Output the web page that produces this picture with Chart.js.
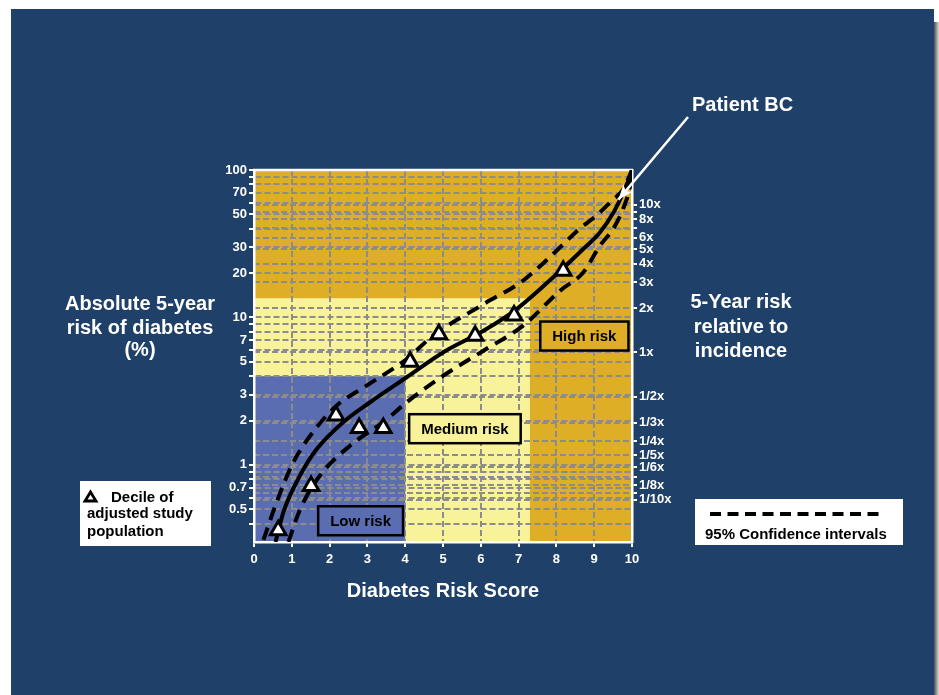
<!DOCTYPE html>
<html><head><meta charset="utf-8">
<script src="https://cdn.jsdelivr.net/npm/chart.js@4/dist/chart.umd.min.js"></script>
<style>html,body{margin:0;padding:0;background:#fff;}canvas{display:block;}</style>
</head><body>
<canvas id="c" width="939" height="695"></canvas>
<script>
// ---------- data ----------
const decileScore = [0.64, 1.51, 2.17, 2.78, 3.42, 4.13, 4.89, 5.85, 6.88, 8.18];
const decileRisk  = [0.36, 0.72, 2.16, 1.78, 1.78, 5.0, 7.7, 7.5, 10.3, 20.7];

const fitScore = [0.57, 0.78, 1.22, 1.66, 2.36, 3.07, 4.04, 5.01, 6.07, 6.95, 8.01, 8.71, 9.15, 9.51, 9.77, 9.95, 10];
const fitRisk  = [0.30, 0.48, 0.85, 1.28, 1.95, 2.66, 3.93, 5.81, 8.12, 11.4, 19.7, 29.1, 37.7, 51.5, 70.4, 91, 100];

const upperScore = [0.25, 0.6, 1.04, 1.66, 2.19, 2.98, 4.04, 4.74, 6.07, 7.12, 8.05, 8.58, 9.07, 9.46, 9.77, 10];
const upperRisk  = [0.31, 0.56, 1.04, 1.8, 2.53, 3.45, 5.23, 7.53, 12.3, 17.8, 29.1, 39.3, 49.4, 61.7, 74, 100];

const lowerScore = [0.91, 1.22, 1.75, 2.54, 3.42, 4.04, 5.01, 6.07, 7.12, 8.1, 8.71, 9.15, 9.55, 9.81, 9.95, 10];
const lowerRisk  = [0.30, 0.50, 0.85, 1.35, 1.95, 2.66, 4.03, 5.95, 8.8, 15.2, 20.2, 30.6, 41.8, 58.6, 78, 100];

const leftTicks  = [0.4, 0.5, 0.6, 0.7, 0.8, 0.9, 1, 2, 3, 4, 5, 6, 7, 8, 9, 10, 20, 30, 40, 50, 60, 70, 80, 90, 100];
const leftLabels = [0.5, 0.7, 1, 2, 3, 5, 7, 10, 20, 30, 50, 70, 100];

const rightTicks  = [0.1, 1/9, 0.125, 1/7, 1/6, 0.2, 0.25, 1/3, 0.5, 1, 2, 3, 4, 5, 6, 7, 8, 9, 10];
const rightLabels = ['1/10x', '', '1/8x', '', '1/6x', '1/5x', '1/4x', '1/3x', '1/2x', '1x', '2x', '3x', '4x', '5x', '6x', '', '8x', '', '10x'];

const incidence = 5.8;            // % risk equal to "1x"
const riskMin = 0.3, riskMax = 100;
const lowScoreCut = 4, lowRiskCut = 4;
const highScoreCut = 7.3, highRiskCut = 13.5;
const riskLabels = ['Low risk', 'Medium risk', 'High risk'];
const riskLabelScore = [2.82, 5.58, 8.74];
const riskLabelRisk  = [0.418, 1.76, 7.48];
const patientScore = 9.64, patientRisk = 63;

// ---------- styles ----------
const FONT = '"Liberation Sans", Arial, Helvetica, sans-serif';
const NAVY = '#1F4068', GOLD = '#DFAE27', YELLOW = '#F8F29A', BLUE = '#5A6DB1', GRID = '#8C8C8C';
const riskFill = [BLUE, YELLOW, GOLD];

const pts = (xs, ys) => xs.map((v, i) => ({x: v, y: ys[i]}));

const decor = {
  id: 'decor',
  beforeDraw(chart) {
    const {ctx, chartArea: a, scales: {x, y}} = chart;
    ctx.save();
    ctx.fillStyle = '#fff'; ctx.fillRect(0, 0, 939, 695);
    const g = ctx.createLinearGradient(933, 0, 939, 0);
    g.addColorStop(0, '#333'); g.addColorStop(1, '#ddd');
    ctx.fillStyle = g; ctx.fillRect(933, 22, 6, 673);
    ctx.fillStyle = NAVY; ctx.fillRect(11, 9, 923, 686);
    ctx.fillStyle = GOLD; ctx.fillRect(a.left, a.top, a.right - a.left, a.bottom - a.top);
    const yh = y.getPixelForValue(highRiskCut), xh = x.getPixelForValue(highScoreCut);
    ctx.fillStyle = YELLOW; ctx.fillRect(a.left, yh, xh - a.left, a.bottom - yh);
    const yl = y.getPixelForValue(lowRiskCut), xl = x.getPixelForValue(lowScoreCut);
    ctx.fillStyle = BLUE; ctx.fillRect(a.left, yl, xl - a.left, a.bottom - yl);
    ctx.restore();
  },
  beforeDatasetsDraw(chart) {
    const {ctx, chartArea: a, scales: {x, y}} = chart;
    ctx.save();
    ctx.strokeStyle = '#fff'; ctx.lineWidth = 2.5;
    ctx.beginPath(); ctx.moveTo(a.left - 1, a.top); ctx.lineTo(a.right + 1, a.top); ctx.stroke();
    ctx.font = 'bold 15px ' + FONT;
    ctx.textAlign = 'center'; ctx.textBaseline = 'middle';
    riskLabels.forEach((t, i) => {
      const cx = x.getPixelForValue(riskLabelScore[i]), cy = y.getPixelForValue(riskLabelRisk[i]);
      const w = ctx.measureText(t).width + 24, h = 29;
      ctx.fillStyle = riskFill[i]; ctx.fillRect(cx - w / 2, cy - h / 2, w, h);
      ctx.strokeStyle = '#000'; ctx.lineWidth = 2.5; ctx.strokeRect(cx - w / 2, cy - h / 2, w, h);
      ctx.fillStyle = '#000'; ctx.fillText(t, cx, cy + 1);
    });
    ctx.restore();
  },
  afterDraw(chart) {
    const {ctx, scales: {x, y}} = chart;
    ctx.save();
    ctx.fillStyle = '#fff';
    ctx.font = 'bold 20px ' + FONT;
    ctx.textAlign = 'center'; ctx.textBaseline = 'alphabetic';
    ['Absolute 5-year', 'risk of diabetes', '(%)'].forEach((t, i) => ctx.fillText(t, 140, [310, 334, 356][i]));
    ['5-Year risk', 'relative to', 'incidence'].forEach((t, i) => ctx.fillText(t, 741, [308, 333, 357][i]));
    ctx.fillText('Diabetes Risk Score', (chart.chartArea.left + chart.chartArea.right) / 2, 596.5);
    ctx.textAlign = 'left';
    ctx.fillText('Patient BC', 692, 110.5);
    // arrow
    const tx = x.getPixelForValue(patientScore), ty = y.getPixelForValue(patientRisk);
    const sx = 688, sy = 117;
    ctx.strokeStyle = '#fff'; ctx.lineWidth = 2.5;
    ctx.beginPath(); ctx.moveTo(sx, sy); ctx.lineTo(tx, ty); ctx.stroke();
    const ang = Math.atan2(ty - sy, tx - sx), L = 16, sp = 0.38;
    ctx.fillStyle = '#fff';
    ctx.beginPath();
    ctx.moveTo(tx, ty);
    ctx.lineTo(tx - L * Math.cos(ang - sp), ty - L * Math.sin(ang - sp));
    ctx.lineTo(tx - L * 0.7 * Math.cos(ang), ty - L * 0.7 * Math.sin(ang));
    ctx.lineTo(tx - L * Math.cos(ang + sp), ty - L * Math.sin(ang + sp));
    ctx.closePath(); ctx.fill();
    // left legend
    ctx.fillStyle = '#fff'; ctx.fillRect(80, 481, 131, 65);
    ctx.strokeStyle = '#000'; ctx.lineWidth = 2.8; ctx.lineJoin = 'miter';
    ctx.beginPath(); ctx.moveTo(90.5, 492); ctx.lineTo(96, 501); ctx.lineTo(85, 501); ctx.closePath();
    ctx.stroke();
    ctx.fillStyle = '#000'; ctx.font = 'bold 15px ' + FONT; ctx.textAlign = 'left';
    ctx.fillText('Decile of', 111, 501.5);
    ctx.fillText('adjusted study', 87, 518);
    ctx.fillText('population', 87, 535.5);
    // right legend
    ctx.fillStyle = '#fff'; ctx.fillRect(695, 499, 208, 46);
    ctx.strokeStyle = '#000'; ctx.lineWidth = 4; ctx.setLineDash([11, 6.5]);
    ctx.beginPath(); ctx.moveTo(710, 514); ctx.lineTo(885, 514); ctx.stroke();
    ctx.setLineDash([]);
    ctx.fillStyle = '#000';
    ctx.fillText('95% Confidence intervals', 705, 538.5);
    ctx.restore();
  }
};

const tickFont = {family: FONT, size: 13, weight: 'bold'};
const hideEdge = c => (c.tick && (c.tick.value === 0 || c.tick.value === 10)) ? 'rgba(0,0,0,0)' : GRID;

new Chart(document.getElementById('c'), {
  type: 'scatter',
  data: {
    datasets: [
      {label: 'Decile', data: pts(decileScore, decileRisk), pointStyle: 'triangle', pointRadius: 9,
       pointBackgroundColor: '#fff', pointBorderColor: '#000', pointBorderWidth: 3, showLine: false, yAxisID: 'y'},
      {label: 'Fit', data: pts(fitScore, fitRisk), showLine: true, borderColor: '#000', borderWidth: 4,
       pointRadius: 0, cubicInterpolationMode: 'monotone', yAxisID: 'y'},
      {label: 'Upper', data: pts(upperScore, upperRisk), showLine: true, borderColor: '#000', borderWidth: 4,
       borderDash: [13, 8], pointRadius: 0, cubicInterpolationMode: 'monotone', yAxisID: 'y'},
      {label: 'Lower', data: pts(lowerScore, lowerRisk), showLine: true, borderColor: '#000', borderWidth: 4,
       borderDash: [13, 8], pointRadius: 0, cubicInterpolationMode: 'monotone', yAxisID: 'y'}
    ]
  },
  options: {
    responsive: false, devicePixelRatio: 1, animation: false,
    layout: {padding: {top: 170, left: 0, right: 0, bottom: 0}},
    plugins: {legend: {display: false}, tooltip: {enabled: false}},
    scales: {
      x: {
        type: 'linear', min: 0, max: 10, position: 'bottom',
        afterFit: s => { s.height = 153; },
        ticks: {stepSize: 1, color: '#fff', font: tickFont, padding: 5, autoSkip: false},
        grid: {color: hideEdge, lineWidth: 2, tickColor: '#fff', tickLength: 5, tickWidth: 2},
        border: {color: '#fff', width: 2.5, dash: [6, 3]}
      },
      y: {
        type: 'logarithmic', min: riskMin, max: riskMax, position: 'left',
        afterFit: s => { s.width = 254; },
        afterBuildTicks: s => { s.ticks = leftTicks.map(v => ({value: v})); },
        ticks: {color: '#fff', font: tickFont, padding: 2, autoSkip: false,
                callback: v => leftLabels.includes(v) ? String(v) : ''},
        grid: {color: GRID, lineWidth: 2, tickColor: '#fff', tickLength: 5, tickWidth: 2},
        border: {color: '#fff', width: 2.5, dash: [6, 3]}
      },
      y2: {
        type: 'logarithmic', min: riskMin / incidence, max: riskMax / incidence, position: 'right',
        afterFit: s => { s.width = 307; },
        afterBuildTicks: s => { s.ticks = rightTicks.map(v => ({value: v})); },
        ticks: {color: '#fff', font: tickFont, padding: 2, autoSkip: false,
                callback: (v, i) => rightLabels[i]},
        grid: {color: GRID, lineWidth: 2, tickColor: '#fff', tickLength: 5, tickWidth: 2},
        border: {color: '#fff', width: 2.5, dash: [6, 3]}
      }
    }
  },
  plugins: [decor]
});
</script>
</body></html>
